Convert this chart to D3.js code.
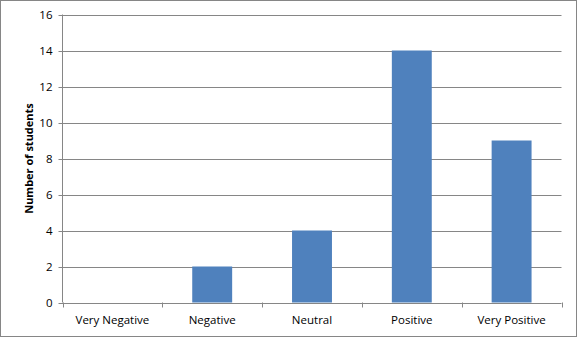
<!DOCTYPE html>
<html><head><meta charset="utf-8">
<script src="https://cdn.jsdelivr.net/npm/d3@7"></script>
<style>body{margin:0;background:#fff}svg{display:block}text{font-family:"Open Sans","Liberation Sans",sans-serif}</style>
</head><body><svg id="c" width="577" height="337"></svg>
<script>
const categories = ["Very Negative","Negative","Neutral","Positive","Very Positive"];
const values = [0,2,4,14,9];
const yTicks = [0,2,4,6,8,10,12,14,16];
const yTitle = "Number of students";

const svg = d3.select("#c");
svg.append("rect").attr("x",0.5).attr("y",0.5).attr("width",576).attr("height",336)
  .attr("fill","#fff").attr("stroke","#868686");
const L=62.5, R=561.5, T=14.5, B=302.5;
const x = d3.scaleBand().domain(categories).range([L,R]).paddingInner(0.6).paddingOuter(0.3);
const y = d3.scaleLinear().domain([0,16]).range([B,T]);

const g = svg.append("g");
g.selectAll("line.grid").data(yTicks).join("line")
  .attr("x1",L-4).attr("x2",R).attr("y1",d=>Math.round(y(d))+0.5).attr("y2",d=>Math.round(y(d))+0.5)
  .attr("stroke","#868686");
g.append("line").attr("x1",L).attr("x2",L).attr("y1",T).attr("y2",B).attr("stroke","#868686");
const step=(R-L)/categories.length;
g.selectAll("line.ct").data(d3.range(categories.length+1)).join("line")
  .attr("x1",i=>Math.round(L+i*step)+0.5).attr("x2",i=>Math.round(L+i*step)+0.5)
  .attr("y1",B).attr("y2",B+5).attr("stroke","#868686");

g.selectAll("rect.bar").data(values).join("rect")
  .attr("x",(d,i)=>x(categories[i])).attr("width",x.bandwidth())
  .attr("y",d=>y(d)).attr("height",d=>B-y(d)).attr("fill","#4F81BD");

g.selectAll("text.yt").data(yTicks).join("text")
  .attr("x",L-10).attr("y",d=>y(d)).attr("dy","0.35em").attr("text-anchor","end")
  .attr("font-size",11.5).attr("fill","#000").text(d=>d);
g.selectAll("text.xt").data(categories).join("text")
  .attr("x",d=>x(d)+x.bandwidth()/2).attr("y",324).attr("text-anchor","middle")
  .attr("font-size",11.5).attr("fill","#000").text(d=>d);
svg.append("text").attr("transform",`translate(33,${(T+B)/2}) rotate(-90)`)
  .attr("text-anchor","middle").attr("font-size",11).attr("font-weight","bold").text(yTitle);
</script></body></html>
